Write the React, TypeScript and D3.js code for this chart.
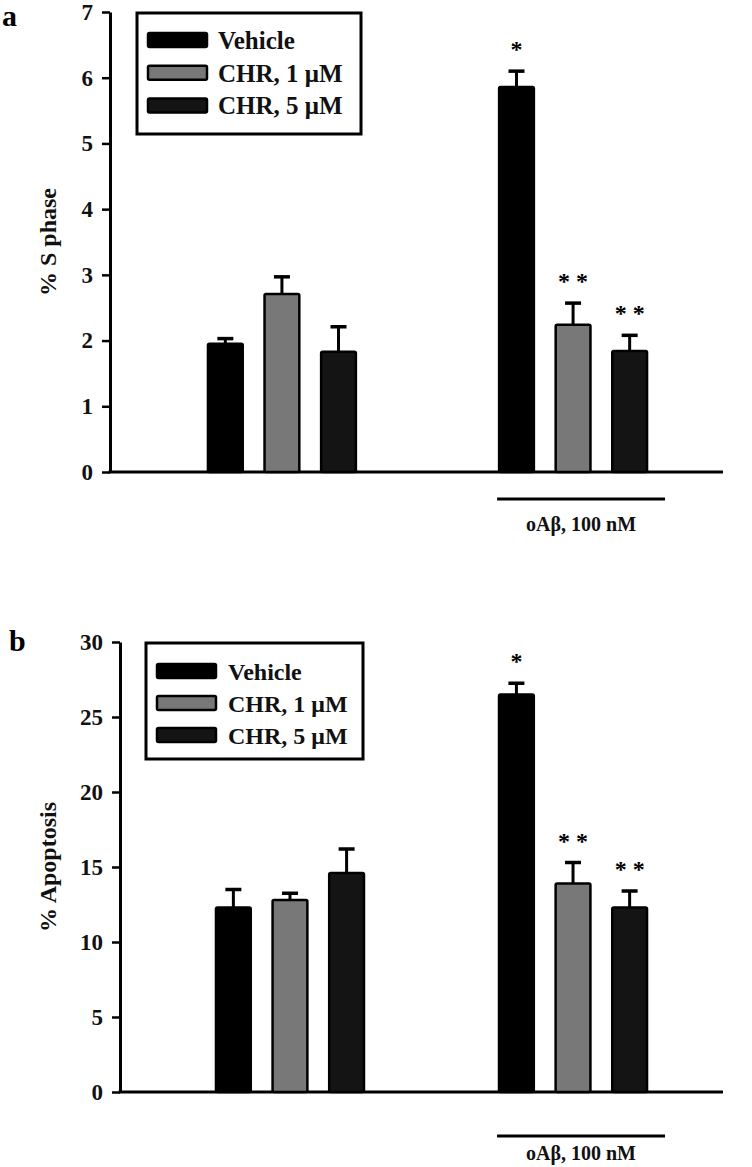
import { useEffect, useRef } from 'react';
import * as d3 from 'd3';

const groups = ["control", "oAβ"];
const seriesNames = ["Vehicle", "CHR, 1 μM", "CHR, 5 μM"];
const seriesColors = ["#000000", "#787878", "#141414"];
const bracketLabel = "oAβ, 100 nM";

// panel a: % S phase, [group][series]
const sPhaseMean = [[1.95, 2.71, 1.83], [5.86, 2.24, 1.84]];
const sPhaseErr = [[0.08, 0.26, 0.38], [0.24, 0.33, 0.24]];
const sPhaseSig = [["", "", ""], ["*", "**", "**"]];
const sPhaseTicks = [0, 1, 2, 3, 4, 5, 6, 7];

// panel b: % Apoptosis
const apoptosisMean = [[12.3, 12.8, 14.6], [26.5, 13.9, 12.3]];
const apoptosisErr = [[1.2, 0.45, 1.6], [0.75, 1.4, 1.1]];
const apoptosisSig = [["", "", ""], ["*", "**", "**"]];
const apoptosisTicks = [0, 5, 10, 15, 20, 25, 30];

const FONT = "'Liberation Serif', 'Times New Roman', serif";

interface PanelCfg {
  letter: string;
  letterPos: [number, number];
  yLabel: string;
  yLabelX: number;
  mean: number[][];
  err: number[][];
  sig: string[][];
  ticks: number[];
  axisX: number;
  axisRight: number;
  yTop: number;
  yZero: number;
  xRange: [number, number];
  padInner: number;
  padOuter: number;
  legend: { x: number; y: number; w: number; h: number; swatchX: number; textX: number; row0: number; rowStep: number; fontSize: number };
  bracketY: number;
  bracketLabelY: number;
}

const panels: PanelCfg[] = [
  {
    letter: "a", letterPos: [2, 26], yLabel: "% S phase", yLabelX: 48,
    mean: sPhaseMean, err: sPhaseErr, sig: sPhaseSig, ticks: sPhaseTicks,
    axisX: 110, axisRight: 723, yTop: 12, yZero: 472,
    xRange: [110, 745], padInner: 0.485, padOuter: 0.333,
    legend: { x: 137, y: 13, w: 224, h: 121, swatchX: 148, textX: 218, row0: 40, rowStep: 32.7, fontSize: 25 },
    bracketY: 499, bracketLabelY: 531,
  },
  {
    letter: "b", letterPos: [9, 651], yLabel: "% Apoptosis", yLabelX: 48,
    mean: apoptosisMean, err: apoptosisErr, sig: apoptosisSig, ticks: apoptosisTicks,
    axisX: 120, axisRight: 723, yTop: 642, yZero: 1092,
    xRange: [121, 742], padInner: 0.47, padOuter: 0.332,
    legend: { x: 146, y: 643, w: 217, h: 116, swatchX: 157, textX: 228, row0: 671, rowStep: 32, fontSize: 24 },
    bracketY: 1136, bracketLabelY: 1160,
  },
];

function drawPanel(root: d3.Selection<SVGGElement, unknown, null, undefined>, p: PanelCfg) {
  const g = root.append("g");
  const yMax = p.ticks[p.ticks.length - 1];
  const y = d3.scaleLinear().domain([0, yMax]).range([p.yZero, p.yTop]);
  const x0 = d3.scaleBand().domain(groups).range(p.xRange).paddingInner(p.padInner).paddingOuter(p.padOuter);
  const x1 = d3.scaleBand().domain(seriesNames).range([0, x0.bandwidth()]).paddingInner(0.35).paddingOuter(0);

  // y axis
  const ax = g.append("g")
    .attr("transform", `translate(${p.axisX},0)`)
    .call(d3.axisLeft(y).tickValues(p.ticks).tickSize(8).tickSizeOuter(0).tickPadding(9).tickFormat(d3.format("d")));
  ax.select(".domain").attr("stroke", "#000").attr("stroke-width", 3);
  ax.selectAll(".tick line").attr("stroke", "#000").attr("stroke-width", 2.5);
  ax.selectAll(".tick text")
    .attr("font-family", FONT).attr("font-weight", "bold").attr("font-size", 23).attr("fill", "#111");

  // x axis baseline
  g.append("line")
    .attr("x1", p.axisX - 1.5).attr("x2", p.axisRight)
    .attr("y1", p.yZero).attr("y2", p.yZero)
    .attr("stroke", "#000").attr("stroke-width", 3);

  const bars = groups.flatMap((grp, gi) => seriesNames.map((s, si) => ({
    grp, s, si, mean: p.mean[gi][si], err: p.err[gi][si], sig: p.sig[gi][si],
  })));

  const bx = (d: any) => (x0(d.grp) ?? 0) + (x1(d.s) ?? 0);

  // error bars behind bars
  bars.forEach(d => {
    const cx = bx(d) + x1.bandwidth() / 2;
    g.append("line")
      .attr("x1", cx).attr("x2", cx)
      .attr("y1", y(d.mean)).attr("y2", y(d.mean + d.err))
      .attr("stroke", "#000").attr("stroke-width", 3);
    g.append("line")
      .attr("x1", cx - 8).attr("x2", cx + 8)
      .attr("y1", y(d.mean + d.err)).attr("y2", y(d.mean + d.err))
      .attr("stroke", "#000").attr("stroke-width", 3.5);
    if (d.sig) {
      g.append("text")
        .attr("x", cx).attr("y", y(d.mean + d.err) - 27 + 13)
        .attr("text-anchor", "middle")
        .attr("font-family", FONT).attr("font-weight", "bold").attr("font-size", 24)
        .text(d.sig.split("").join(" "));
    }
  });

  g.selectAll("rect.bar")
    .data(bars)
    .enter()
    .append("rect")
    .attr("class", "bar")
    .attr("x", d => bx(d) + 1)
    .attr("y", d => y(d.mean))
    .attr("width", x1.bandwidth() - 2)
    .attr("height", d => p.yZero - y(d.mean))
    .attr("rx", 1.5)
    .attr("fill", d => seriesColors[d.si])
    .attr("stroke", "#000")
    .attr("stroke-width", 2.5);

  // bracket under oAβ group
  const bStart = (x0(groups[1]) ?? 0) - 1;
  const bEnd = (x0(groups[1]) ?? 0) + x0.bandwidth() + 17;
  g.append("line")
    .attr("x1", bStart).attr("x2", bEnd)
    .attr("y1", p.bracketY).attr("y2", p.bracketY)
    .attr("stroke", "#000").attr("stroke-width", 3);
  g.append("text")
    .attr("x", (bStart + bEnd) / 2).attr("y", p.bracketLabelY)
    .attr("text-anchor", "middle")
    .attr("font-family", FONT).attr("font-weight", "bold").attr("font-size", 20)
    .attr("fill", "#111")
    .text(bracketLabel);

  // legend
  const L = p.legend;
  g.append("rect")
    .attr("x", L.x).attr("y", L.y).attr("width", L.w).attr("height", L.h)
    .attr("fill", "#fff").attr("stroke", "#000").attr("stroke-width", 3);
  seriesNames.forEach((s, i) => {
    const cy = L.row0 + i * L.rowStep;
    g.append("rect")
      .attr("x", L.swatchX).attr("y", cy - 7).attr("width", 59).attr("height", 14)
      .attr("rx", 1.5)
      .attr("fill", seriesColors[i]).attr("stroke", "#000").attr("stroke-width", 2.5);
    g.append("text")
      .attr("x", L.textX).attr("y", cy + 9)
      .attr("font-family", FONT).attr("font-weight", "bold").attr("font-size", L.fontSize)
      .attr("fill", "#111")
      .text(s);
  });

  // y label
  const ylMid = (p.yTop + p.yZero) / 2;
  g.append("text")
    .attr("transform", `translate(${p.yLabelX},${ylMid}) rotate(-90)`)
    .attr("text-anchor", "middle")
    .attr("dy", "0.35em")
    .attr("font-family", FONT).attr("font-weight", "bold").attr("font-size", 24)
    .attr("fill", "#111")
    .text(p.yLabel);

  // panel letter
  g.append("text")
    .attr("x", p.letterPos[0]).attr("y", p.letterPos[1])
    .attr("font-family", FONT).attr("font-weight", "bold").attr("font-size", 30)
    .attr("fill", "#000")
    .text(p.letter);
}

export default function App() {
  const ref = useRef<SVGSVGElement | null>(null);

  useEffect(() => {
    if (!ref.current) return;
    const svg = d3.select(ref.current);
    svg.selectAll("*").remove();
    const root = svg.append("g") as d3.Selection<SVGGElement, unknown, null, undefined>;
    panels.forEach(p => drawPanel(root, p));
  }, []);

  return (
    <svg
      ref={ref}
      width={752}
      height={1167}
      style={{ position: "absolute", left: 0, top: 0, background: "#fff" }}
    />
  );
}
